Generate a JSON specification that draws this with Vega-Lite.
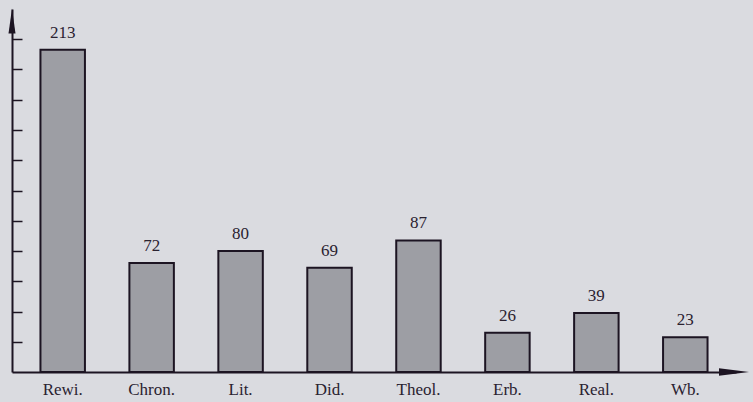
{
  "$schema": "https://vega.github.io/schema/vega-lite/v6.json",
  "width": 724,
  "height": 363,
  "autosize": {"type": "none"},
  "padding": {"left": 12, "top": 9, "right": 17, "bottom": 30},
  "background": "#dadbe0",
  "config": {
    "view": {"stroke": null},
    "font": "Liberation Serif"
  },
  "data": {
    "values": [
      {"cat": "Rewi.", "n": 213},
      {"cat": "Chron.", "n": 72},
      {"cat": "Lit.", "n": 80},
      {"cat": "Did.", "n": 69},
      {"cat": "Theol.", "n": 87},
      {"cat": "Erb.", "n": 26},
      {"cat": "Real.", "n": 39},
      {"cat": "Wb.", "n": 23}
    ]
  },
  "layer": [
    {
      "mark": {"type": "bar", "fill": "#9d9ea4", "stroke": "#1c1422", "strokeWidth": 2},
      "encoding": {
        "x": {
          "field": "cat", "type": "nominal", "sort": null,
          "scale": {"paddingInner": 0.5, "paddingOuter": 0.32},
          "axis": {
            "title": null, "labelAngle": 0, "ticks": false, "labelFontSize": 17,
            "labelColor": "#2a2230", "labelPadding": 9, "domainColor": "#1c1422", "domainWidth": 2,
            "labelFont": "Liberation Serif"
          }
        },
        "y": {
          "field": "n", "type": "quantitative",
          "scale": {"domain": [0, 240], "nice": false},
          "axis": {
            "title": null, "labels": false, "grid": false, "labelOverlap": false, "tickCount": 12,
            "values": [20, 40, 60, 80, 100, 120, 140, 160, 180, 200, 220],
            "tickSize": -10, "tickColor": "#1c1422", "tickWidth": 1.5,
            "domainColor": "#1c1422", "domainWidth": 2
          }
        }
      }
    },
    {
      "mark": {"type": "text", "baseline": "bottom", "dy": -8, "fontSize": 17, "color": "#2a2230", "font": "Liberation Serif"},
      "encoding": {
        "x": {"field": "cat", "type": "nominal", "sort": null},
        "y": {"field": "n", "type": "quantitative"},
        "text": {"field": "n", "type": "quantitative"}
      }
    },
    {
      "data": {"values": [{"a": 1}]},
      "mark": {"type": "point", "shape": "M0,-1L0.28,1L-0.28,1Z", "filled": true, "color": "#1c1422", "size": 625, "opacity": 1},
      "encoding": {
        "x": {"value": 0},
        "y": {"datum": 232, "type": "quantitative"}
      }
    },
    {
      "data": {"values": [{"a": 1}]},
      "mark": {"type": "point", "shape": "M1,0L-1,0.25L-1,-0.25Z", "filled": true, "color": "#1c1422", "size": 900, "opacity": 1},
      "encoding": {
        "x": {"value": 722},
        "y": {"datum": 0, "type": "quantitative"}
      }
    }
  ]
}
